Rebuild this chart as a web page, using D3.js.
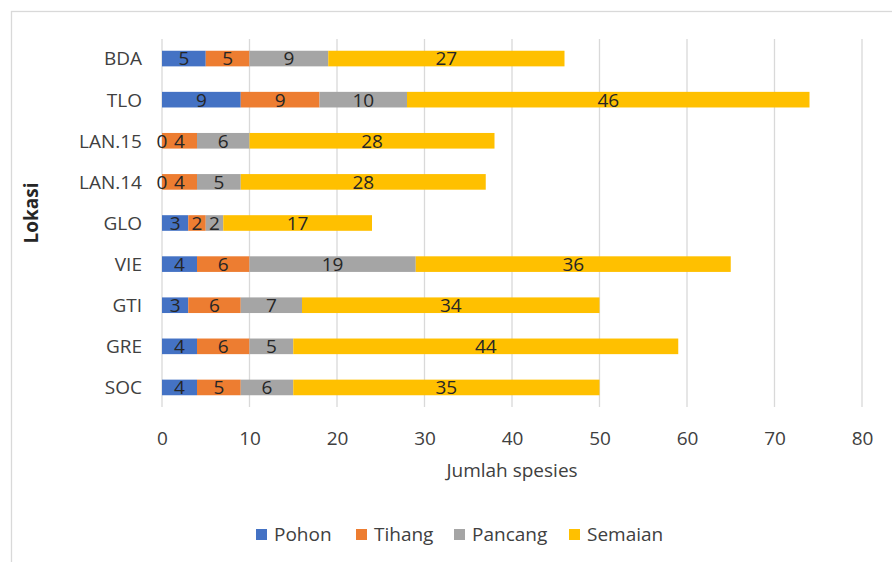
<!DOCTYPE html>
<html><head><meta charset="utf-8">
<script src="https://cdn.jsdelivr.net/npm/d3@7"></script>
<style>body{margin:0;background:#fff}svg{display:block}text{font-family:"Open Sans",Lato,sans-serif}</style>
</head><body><svg id="c" width="892" height="562"></svg>
<script>
const categories = ["BDA","TLO","LAN.15","LAN.14","GLO","VIE","GTI","GRE","SOC"];
const seriesNames = ["Pohon","Tihang","Pancang","Semaian"];
const pohon   = [5,9,0,0,3,4,3,4,4];
const tihang  = [5,9,4,4,2,6,6,6,5];
const pancang = [9,10,6,5,2,19,7,5,6];
const semaian = [27,46,28,28,17,36,34,44,35];
const xTicks = [0,10,20,30,40,50,60,70,80];
const colors = ["#4472C4","#ED7D31","#A5A5A5","#FFC000"];

const FS = 19;
const svg = d3.select("#c");
svg.append("rect").attr("x",11.5).attr("y",11.5).attr("width",900).attr("height",600)
  .attr("fill","#fff").attr("stroke","#d9d9d9").attr("stroke-width",1.3);

const x = d3.scaleLinear().domain([0,80]).range([162,862]);
const y = d3.scaleBand().domain(categories).range([38,408]).paddingInner(0.62).paddingOuter(0.31);

svg.append("g").selectAll("line").data(xTicks).join("line")
  .attr("x1",d=>x(d)).attr("x2",d=>x(d)).attr("y1",39).attr("y2",407)
  .attr("stroke","#d9d9d9").attr("stroke-width",1.3);

const stackData = categories.map((c,i)=>({cat:c,Pohon:pohon[i],Tihang:tihang[i],Pancang:pancang[i],Semaian:semaian[i]}));
const stacked = d3.stack().keys(seriesNames)(stackData);

const g = svg.append("g");
stacked.forEach((s,si)=>{
  g.selectAll(null).data(s).join("rect")
    .attr("x",d=>x(d[0])).attr("width",d=>x(d[1])-x(d[0]))
    .attr("y",d=>y(d.data.cat)).attr("height",y.bandwidth())
    .attr("fill",colors[si]);
});
stacked.forEach((s,si)=>{
  g.selectAll(null).data(s).join("text")
    .attr("x",d=>(x(d[0])+x(d[1]))/2).attr("y",d=>y(d.data.cat)+y.bandwidth()/2)
    .attr("dy","0.36em").attr("text-anchor","middle")
    .attr("font-size",FS).attr("fill","#262626")
    .text(d=>d.data[s.key]);
});

svg.append("g").selectAll("text").data(categories).join("text")
  .attr("x",142).attr("y",d=>y(d)+y.bandwidth()/2).attr("dy","0.36em")
  .attr("text-anchor","end").attr("font-size",FS).attr("fill","#404040").text(d=>d);

const xa = svg.append("g").attr("transform","translate(0,445)")
  .call(d3.axisBottom(x).tickValues(xTicks).tickSize(0).tickPadding(0));
xa.select(".domain").remove();
xa.selectAll("text").attr("font-size",FS).attr("fill","#404040").attr("font-family","'Open Sans',Lato,sans-serif").attr("y",0).attr("dy",0);

svg.append("text").attr("x",512).attr("y",470).attr("dy","0.36em").attr("text-anchor","middle")
  .attr("font-size",FS).attr("fill","#404040").text("Jumlah spesies");
svg.append("text").attr("transform","translate(31,213) rotate(-90)").attr("dy","0.36em")
  .attr("text-anchor","middle").attr("font-size",FS).attr("font-weight","bold").attr("fill","#262626").text("Lokasi");

const legX = [256,356,454,569];
const leg = svg.append("g").selectAll("g").data(seriesNames).join("g")
  .attr("transform",(d,i)=>`translate(${legX[i]},534)`);
leg.append("rect").attr("x",0).attr("y",-5).attr("width",11).attr("height",11).attr("fill",(d,i)=>colors[i]);
leg.append("text").attr("x",18).attr("y",0).attr("dy","0.36em").attr("font-size",FS).attr("fill","#404040").text(d=>d);
</script></body></html>
